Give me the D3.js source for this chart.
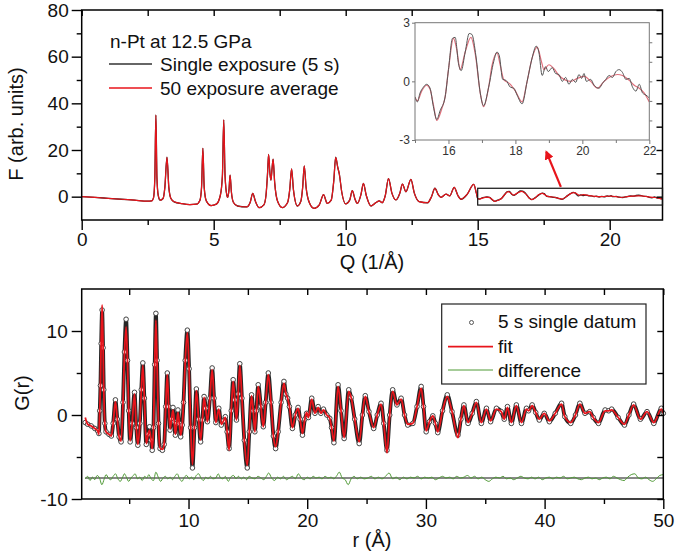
<!DOCTYPE html>
<html><head><meta charset="utf-8">
<script src="https://cdn.jsdelivr.net/npm/d3@7"></script>
<style>
body{margin:0;background:#fff}
svg{display:block}
text{font-family:"Liberation Sans",Arial,sans-serif}
</style>
</head><body>
<svg id="c" width="675" height="555"></svg>
<script>
// ---------------- DATA ----------------
// Top panel: F(Q), both exposures coincide below Q = 15 [Q, F]
const fLow = [
[0,0],[0.5,-0.3],[1.0,-0.7],[1.5,-1.1],[2.0,-1.5],[2.5,-1.9],[2.65,-1.8],[2.72,-0.5],[2.77,8],[2.81,35.0],
[2.85,8],[2.9,0.5],[2.97,-1.5],[3.08,-0.8],[3.15,4],[3.23,16.9],[3.3,4],[3.38,-0.8],[3.5,-2.2],[3.8,-3.0],
[4.1,-3.4],[4.35,-3.2],[4.48,-1.5],[4.54,4],[4.59,20.7],[4.64,4],[4.72,-1.8],[4.9,-3.8],[5.1,-3.2],[5.25,0.5],
[5.33,9],[5.38,32.9],[5.43,9],[5.5,0.5],[5.53,-0.3],[5.58,3],[5.62,9.2],[5.67,2],[5.75,-2.5],[5.9,-4.0],
[6.25,-4.4],[6.38,-2.5],[6.48,1.4],[6.58,-2.0],[6.72,-4.7],[6.9,-3.5],[6.98,0.5],[7.04,10],[7.08,18.1],[7.13,10],
[7.17,7.1],[7.21,12],[7.25,16.1],[7.31,6],[7.42,-2.0],[7.6,-4.7],[7.8,-2.5],[7.88,3],[7.95,11.9],[8.02,3],
[8.17,-4.0],[8.3,-2.0],[8.37,4],[8.43,13.2],[8.5,4],[8.62,-2.5],[8.8,-5.0],[9.0,-3.5],[9.16,0.9],[9.3,-2.9],
[9.45,-1.5],[9.55,7],[9.62,16.9],[9.7,12.5],[9.76,9.6],[9.85,2.0],[10.0,-3.1],[10.15,-1.5],[10.25,2.6],[10.35,-1.0],
[10.44,-2.9],[10.58,1.0],[10.67,5.7],[10.78,0.5],[10.96,-4.0],[11.15,-2.5],[11.27,-1.8],[11.38,-2.6],[11.5,0.5],[11.62,7.7],
[11.75,1.5],[11.9,-1.4],[12.05,1.5],[12.15,5.4],[12.28,2.1],[12.47,7.4],[12.6,1.5],[12.78,-2.1],[13.1,-2.6],[13.25,0.0],
[13.38,3.6],[13.5,1.0],[13.61,-0.3],[13.8,1.1],[13.94,0.3],[14.11,4.0],[14.25,0.5],[14.37,-1.1],[14.6,1.0],[14.85,5.3],
[14.95,1.5]
];
// Q >= 15: 50 exposure average [Q, F]
const fHiAvg = [
[15.0,-0.8],[15.07,-1.0],[15.2,-0.5],[15.35,-0.2],[15.45,-0.4],[15.55,-1.2],[15.65,-2.0],[15.8,-1.4],[15.9,-0.8],[16.0,0.6],
[16.15,2.2],[16.25,1.6],[16.35,0.6],[16.5,1.5],[16.67,2.25],[16.8,1.4],[16.95,-0.6],[17.05,-1.3],[17.2,-0.3],[17.3,0.8],
[17.45,1.45],[17.55,0.8],[17.65,0.1],[17.85,-0.15],[18.0,-0.5],[18.2,-1.05],[18.35,0.0],[18.5,1.2],[18.65,1.75],[18.78,1.0],
[18.85,0.6],[19.0,0.85],[19.15,0.65],[19.3,0.3],[19.45,0.1],[19.65,0.0],[19.85,0.15],[20.05,0.25],[20.25,0.0],[20.45,-0.35],
[20.65,0.0],[20.85,0.25],[21.05,0.35],[21.2,0.3],[21.4,0.05],[21.55,-0.2],[21.7,-0.35],[21.85,-0.6],[22.0,-1.05]
];
// Q >= 15: single exposure (5 s) [Q, F]
const fHiSingle = [
[15.0,-0.8],[15.07,-1.05],[15.15,-0.6],[15.25,-0.3],[15.35,-0.15],[15.45,-0.35],[15.55,-1.3],[15.65,-1.95],[15.75,-1.5],[15.9,-0.8],
[16.0,0.6],[16.12,2.2],[16.2,2.25],[16.3,0.9],[16.38,0.55],[16.5,1.5],[16.62,2.45],[16.7,2.4],[16.82,1.3],[16.95,-0.6],
[17.05,-1.25],[17.2,-0.3],[17.35,1.0],[17.45,1.5],[17.52,1.3],[17.62,0.1],[17.72,0.05],[17.85,-0.3],[17.95,-0.35],[18.05,-0.7],
[18.2,-1.15],[18.35,0.0],[18.5,1.2],[18.62,1.8],[18.7,1.5],[18.8,0.3],[18.9,0.75],[18.98,0.5],[19.1,0.7],[19.2,0.4],
[19.3,0.35],[19.4,0.0],[19.5,0.2],[19.6,-0.15],[19.7,0.1],[19.8,-0.05],[19.9,0.35],[19.98,0.15],[20.05,0.4],[20.12,0.0],
[20.25,0.1],[20.35,-0.2],[20.5,-0.35],[20.6,-0.1],[20.7,0.1],[20.8,0.3],[20.9,0.2],[21.0,0.5],[21.1,0.6],[21.2,0.45],
[21.3,0.1],[21.4,0.15],[21.5,-0.3],[21.6,-0.5],[21.7,-0.15],[21.8,-0.6],[21.9,-0.7],[22.0,-0.85]
];

// Bottom panel: G(r)
const gR = [
1.30,1.50,1.80,2.10,2.35,2.45,2.52,2.58,2.64,2.72,
2.80,2.86,2.95,3.05,3.30,3.50,3.65,3.84,4.00,4.15,
4.32,4.48,4.60,4.74,4.86,4.96,5.08,5.25,5.45,5.60,
5.73,5.90,6.02,6.15,6.28,6.44,6.60,6.72,6.84,6.94,
7.05,7.15,7.25,7.35,7.47,7.60,7.80,7.95,8.08,8.21,
8.33,8.44,8.57,8.69,8.80,8.89,9.00,9.11,9.22,9.34,
9.47,9.58,9.72,9.90,10.05,10.18,10.33,10.50,10.66,10.85,
11.02,11.17,11.31,11.45,11.59,11.80,11.99,12.15,12.30,12.55,
12.76,12.95,13.10,13.25,13.42,13.60,13.76,13.90,14.04,14.18,
14.32,14.50,14.70,14.95,15.12,15.31,15.45,15.59,15.72,15.87,
16.10,16.30,16.50,16.72,16.95,17.15,17.34,17.55,17.80,18.04,
18.20,18.35,18.50,18.75,19.00,19.23,19.40,19.60,19.80,19.95,
20.10,20.38,20.65,20.92,21.15,21.37,21.65,21.90,22.05,22.25,
22.60,22.85,23.11,23.50,23.70,24.00,24.38,24.65,24.89,25.20,
25.60,25.90,26.22,26.45,26.72,26.95,27.20,27.56,27.91,28.20,
28.47,28.90,29.25,29.60,29.80,30.02,30.30,30.58,30.80,31.00,
31.40,31.80,32.20,32.70,32.95,33.20,33.55,33.90,34.25,34.67,
35.10,35.45,35.94,36.35,36.60,36.87,37.20,37.62,38.05,38.47,
38.65,38.95,39.25,39.55,39.97,40.40,40.90,41.43,41.70,42.20,
42.60,42.97,43.40,43.80,44.10,44.54,45.10,45.40,45.65,46.20,
46.73,47.10,47.50,48.07,48.63,49.20,49.83,50.00
];
// 5 s single datum
const gObs = [
-0.9,-1.1,-1.3,-1.6,-1.9,-2.2,0.5,3.5,8.5,12.5,
8.0,3.0,-1.0,-2.0,-2.3,-2.5,-1.0,1.8,-0.5,-2.6,
-3.2,1.5,7.5,11.4,6.5,0.5,-3.2,-1.0,2.7,-1.5,
-3.6,-1.0,3.0,6.2,2.0,-3.5,-2.3,-1.4,-3.0,-4.2,
-1.5,6.0,12.1,6.5,-1.0,-4.0,-4.2,-3.5,1.0,5.0,
1.0,-1.8,-0.5,0.9,-0.8,-2.4,-1.0,0.6,-1.0,-2.6,
-1.2,1.5,6.5,10.1,5.5,-1.5,-6.3,-1.5,3.1,-0.5,
-3.2,-0.6,2.2,0.8,-0.8,2.0,5.6,2.0,-0.9,0.8,
-1.2,-0.7,-0.2,-2.0,-4.0,0.5,4.2,1.8,-0.6,2.5,
6.1,2.0,-3.0,-6.3,-2.0,2.4,0.5,-2.0,0.5,3.6,
1.0,-1.4,1.5,5.0,1.5,-2.5,-4.0,-2.0,1.5,4.0,
2.5,2.0,1.0,-1.6,0.0,0.9,-0.5,-2.4,-0.5,0.2,
-0.3,2.0,0.2,1.0,0.2,0.7,0.0,-0.4,-1.5,-3.3,
3.6,0.5,-2.8,3.0,2.1,-0.5,-3.4,0.0,2.3,0.4,
-1.6,0.0,1.4,-1.0,-4.2,0.0,3.0,1.2,2.0,0.0,
-1.2,-1.0,1.0,3.4,1.0,-2.0,-0.8,-0.1,-1.0,-2.1,
0.5,2.4,0.4,-2.4,-0.5,1.2,-1.0,0.2,1.6,-1.0,
0.8,-0.8,0.8,0.4,-0.5,1.0,-1.0,1.2,-1.0,0.8,
0.5,1.2,0.3,-0.6,0.2,-0.8,0.2,1.4,-0.2,-1.0,
0.0,1.4,0.2,0.4,-0.3,-1.0,0.6,0.5,0.7,-0.3,
-1.2,0.0,1.3,-0.5,0.4,-1.0,0.8,0.2
];
// fit
const gFit = [
-0.3,-1.1,-1.3,-1.6,-1.9,-2.3,0.5,3.6,8.8,13.1,
8.2,3.0,-1.0,-2.0,-2.3,-2.5,-1.0,1.6,-0.5,-2.6,
-3.1,1.4,7.1,10.5,6.2,0.5,-3.1,-1.0,2.5,-1.5,
-3.5,-1.0,2.8,5.9,1.9,-3.4,-2.3,-1.8,-3.0,-4.0,
-1.5,5.7,11.3,6.2,-1.0,-3.9,-4.1,-3.4,1.0,4.8,
1.0,-1.7,-0.5,0.6,-0.8,-2.3,-1.0,0.3,-1.0,-2.4,
-1.2,1.5,6.3,9.8,5.4,-1.4,-5.9,-1.4,2.9,-0.5,
-3.0,-0.6,2.1,0.8,-0.8,2.0,5.4,2.0,-0.9,0.7,
-1.1,-0.7,-0.3,-2.0,-4.2,0.5,4.0,1.8,-0.6,2.4,
5.9,2.0,-3.0,-6.0,-2.0,2.3,0.5,-2.0,0.5,3.4,
1.0,-1.4,1.5,4.8,1.5,-2.5,-3.8,-2.0,1.5,3.8,
2.6,2.0,1.0,-1.5,0.0,0.8,-0.5,-2.2,-0.5,0.3,
-0.3,1.9,0.2,0.9,0.2,0.6,0.0,-0.4,-1.5,-3.1,
3.4,0.5,-2.7,2.8,2.1,-0.5,-3.2,0.0,2.2,0.4,
-1.5,0.0,1.3,-1.0,-4.5,0.0,2.8,1.2,1.9,0.0,
-1.1,-1.0,1.0,3.2,1.0,-1.9,-0.8,-0.1,-1.0,-2.0,
0.5,2.2,0.4,-2.7,-0.5,1.1,-0.9,0.2,1.5,-0.9,
0.7,-0.7,0.7,0.4,-0.5,0.9,-0.9,1.1,-0.9,0.7,
0.5,1.1,0.3,-0.5,0.2,-0.7,0.2,1.3,-0.2,-0.9,
0.0,1.3,0.2,0.4,-0.3,-0.9,0.5,0.5,0.6,-0.3,
-1.1,0.0,1.2,-0.5,0.4,-0.9,0.7,0.2
];
// difference (offset by -7.5) [r, G]
const gDiff = [
[1.3,-7.6],[1.5,-7.3],[1.7,-7.8],[1.9,-7.4],[2.1,-7.7],[2.3,-7.2],[2.5,-7.5],[2.7,-8.3],[2.9,-7.6],[3.05,-7.1],
[3.25,-7.5],[3.45,-7.7],[3.65,-7.3],[3.85,-7.0],[4.05,-7.6],[4.25,-7.9],[4.45,-7.4],[4.6,-7.0],[4.8,-7.5],[4.95,-7.9],
[5.15,-7.5],[5.35,-7.2],[5.5,-7.0],[5.7,-7.6],[5.9,-7.4],[6.1,-7.8],[6.3,-7.3],[6.5,-7.5],[6.65,-7.1],[6.85,-7.6],
[7.05,-7.8],[7.25,-6.8],[7.45,-7.4],[7.65,-7.9],[7.85,-7.5],[8.05,-7.3],[8.25,-7.6],[8.45,-7.4],[8.65,-7.7],[8.85,-7.3],
[9.05,-7.0],[9.25,-7.6],[9.45,-7.9],[9.65,-7.4],[9.85,-7.2],[10.05,-7.6],[10.25,-7.4],[10.45,-7.7],[10.65,-7.2],[10.85,-7.0],
[11.05,-7.5],[11.25,-7.8],[11.45,-7.4],[11.65,-7.6],[11.85,-7.3],[12.05,-7.6],[12.3,-7.5],[12.5,-7.0],[12.7,-7.5],[12.9,-7.6],
[13.1,-7.3],[13.35,-7.9],[13.55,-7.4],[13.8,-7.2],[14.0,-7.6],[14.2,-7.3],[14.45,-7.6],[14.65,-7.4],[14.9,-7.7],[15.1,-7.3],
[15.35,-7.5],[15.6,-7.6],[15.85,-7.3],[16.1,-7.5],[16.35,-7.7],[16.6,-7.2],[16.75,-6.9],[17.0,-7.5],[17.25,-7.8],[17.5,-7.4],
[17.75,-7.6],[18.0,-7.3],[18.25,-7.7],[18.5,-7.5],[18.75,-7.3],[19.0,-7.6],[19.25,-7.0],[19.5,-7.5],[19.75,-7.7],[20.0,-7.4],
[20.25,-7.6],[20.5,-7.3],[20.75,-7.5],[21.0,-7.4],[21.25,-7.6],[21.5,-7.3],[21.75,-7.5],[22.0,-7.4],[22.25,-7.6],[22.5,-7.2],
[22.7,-6.8],[22.95,-7.5],[23.2,-7.7],[23.45,-8.3],[23.7,-7.6],[23.95,-7.3],[24.2,-7.6],[24.5,-7.4],[24.8,-7.6],[25.1,-7.5],
[25.4,-7.3],[25.7,-7.6],[26.0,-7.4],[26.3,-7.6],[26.6,-7.3],[26.9,-6.9],[27.2,-7.6],[27.5,-7.4],[27.8,-7.7],[28.1,-7.4],
[28.4,-7.6],[28.7,-7.4],[29.0,-7.5],[29.3,-7.3],[29.6,-7.6],[29.9,-7.4],[30.2,-7.5],[30.5,-7.4],[30.8,-7.7],[31.1,-7.5],
[31.4,-7.3],[31.7,-7.5],[32.0,-7.4],[32.3,-7.6],[32.6,-7.3],[32.9,-7.5],[33.2,-7.4],[33.5,-7.2],[33.8,-7.5],[34.1,-7.3],
[34.4,-7.6],[34.7,-7.4],[35.0,-7.7],[35.3,-7.9],[35.6,-7.6],[35.9,-7.4],[36.2,-7.5],[36.5,-7.3],[36.8,-7.6],[37.1,-7.5],
[37.4,-7.7],[37.7,-7.5],[38.0,-7.3],[38.3,-7.5],[38.6,-7.6],[38.9,-7.4],[39.2,-7.6],[39.5,-7.4],[39.8,-7.7],[40.1,-7.5],
[40.4,-7.4],[40.7,-7.6],[41.0,-7.4],[41.3,-7.5],[41.6,-7.3],[41.9,-7.6],[42.2,-7.5],[42.5,-7.4],[42.8,-7.6],[43.1,-7.7],
[43.4,-7.5],[43.7,-7.4],[44.0,-7.6],[44.3,-7.5],[44.6,-7.7],[44.9,-7.5],[45.2,-7.4],[45.5,-7.6],[45.8,-7.3],[46.1,-7.5],
[46.4,-7.7],[46.7,-7.8],[47.0,-7.4],[47.3,-7.1],[47.6,-7.0],[47.9,-7.5],[48.2,-7.6],[48.5,-7.4],[48.8,-7.7],[49.1,-7.9],
[49.4,-7.6],[49.7,-7.2],[50.0,-7.1]
];
const diffZero = -7.5;

// tick values and labels
const fQMajor = [0,5,10,15,20], fQMinor = [2.5,7.5,12.5,17.5];
const fYMajor = [0,20,40,60,80], fYMinor = [10,30,50,70];
const insetXTicks = [16,18,20,22], insetXMinor = [15,17,19,21], insetYTicks = [-3,0,3];
const gXMajor = [10,20,30,40,50], gXMinor = [5,15,25,35,45];
const gYMajor = [-10,0,10], gYMinor = [-5,5];
const topLegend = ["Single exposure (5 s)","50 exposure average"];
const botLegend = ["5 s single datum","fit","difference"];

// ---------------- DRAW ----------------
const RED = "#e8141b", FONT = '"Liberation Sans", Arial, sans-serif';
const svg = d3.select("#c");
const defs = svg.append("defs");
defs.append("marker").attr("id","ah").attr("viewBox","0 0 10 10").attr("refX",8).attr("refY",5)
  .attr("markerWidth",4.2).attr("markerHeight",4.2).attr("orient","auto")
  .append("path").attr("d","M0,0L10,5L0,10z").attr("fill",RED);

function styleAxis(g, fs) {
  g.select(".domain").remove();
  g.selectAll(".tick line").attr("stroke","#000").attr("stroke-width",1.4);
  g.selectAll("text").attr("font-size",fs).attr("font-family",FONT).attr("fill","#111");
}
function axes(xs, ys, o) {
  const [x0,x1] = xs.range(), [y0,y1] = ys.range();
  const fmt = d => String(d);
  styleAxis(svg.append("g").attr("transform",`translate(0,${y0})`)
    .call(d3.axisBottom(xs).tickValues(o.xMajor).tickSize(10).tickPadding(o.xPad).tickFormat(fmt)), 19);
  styleAxis(svg.append("g").attr("transform",`translate(0,${y0})`)
    .call(d3.axisBottom(xs).tickValues(o.xMinor).tickSize(5).tickFormat("")), 19);
  styleAxis(svg.append("g").attr("transform",`translate(0,${y1})`)
    .call(d3.axisTop(xs).tickValues(o.xMajor.concat(o.xMinor)).tickSize(-6).tickFormat("")), 19);
  styleAxis(svg.append("g").attr("transform",`translate(${x0},0)`)
    .call(d3.axisLeft(ys).tickValues(o.yMajor).tickSize(10).tickPadding(o.yPad).tickFormat(fmt)), 19);
  styleAxis(svg.append("g").attr("transform",`translate(${x0},0)`)
    .call(d3.axisLeft(ys).tickValues(o.yMinor).tickSize(5).tickFormat("")), 19);
  styleAxis(svg.append("g").attr("transform",`translate(${x1},0)`)
    .call(d3.axisRight(ys).tickValues(o.yMajor.concat(o.yMinor)).tickSize(-6).tickFormat("")), 19);
  svg.append("rect").attr("x",x0).attr("y",y1).attr("width",x1-x0).attr("height",y0-y1)
    .attr("fill","none").attr("stroke","#000").attr("stroke-width",1.5);
}

// ===== Top panel =====
const xF = d3.scaleLinear().domain([0,22]).range([81.7,662.5]);
const yF = d3.scaleLinear().domain([-10,80]).range([220,10]);
const lineF = d3.line().x(d=>xF(d[0])).y(d=>yF(d[1])).curve(d3.curveMonotoneX);
const fSingle = fLow.concat(fHiSingle), fAvg = fLow.concat(fHiAvg);

svg.append("path").attr("d",lineF(fSingle)).attr("fill","none").attr("stroke","#222").attr("stroke-width",1.3);
svg.append("path").attr("d",lineF(fAvg)).attr("fill","none").attr("stroke",RED).attr("stroke-width",1.2);

axes(xF, yF, {xMajor:fQMajor,xMinor:fQMinor,yMajor:fYMajor,yMinor:fYMinor,xPad:3,yPad:3});

// zoom box
svg.append("rect").attr("x",xF(15)).attr("y",yF(3.6)).attr("width",xF(22)-xF(15)).attr("height",yF(-3.6)-yF(3.6))
  .attr("fill","none").attr("stroke","#111").attr("stroke-width",1.2);
// arrow
svg.append("line").attr("x1",xF(18.15)).attr("y1",yF(4.2)).attr("x2",xF(17.6)).attr("y2",yF(19.2))
  .attr("stroke",RED).attr("stroke-width",2.2).attr("marker-end","url(#ah)");

// inset
const xI = d3.scaleLinear().domain([15,22]).range([415,649.3]);
const yI = d3.scaleLinear().domain([-3,3]).range([140,22.7]);
svg.append("rect").attr("x",415).attr("y",22.7).attr("width",234.3).attr("height",117.3).attr("fill","#fff");
defs.append("clipPath").attr("id","ic").append("rect").attr("x",415).attr("y",22.7).attr("width",234.3).attr("height",117.3);
const lineI = d3.line().x(d=>xI(d[0])).y(d=>yI(d[1])).curve(d3.curveMonotoneX);
const gi = svg.append("g").attr("clip-path","url(#ic)");
gi.append("path").attr("d",lineI(fHiAvg)).attr("fill","none").attr("stroke","#e0707c").attr("stroke-width",1.2);
gi.append("path").attr("d",lineI(fHiSingle)).attr("fill","none").attr("stroke","#555").attr("stroke-width",1);
function styleInset(g){
  g.select(".domain").remove();
  g.selectAll(".tick line").attr("stroke","#777").attr("stroke-width",1);
  g.selectAll("text").attr("font-size",12).attr("font-family",FONT).attr("fill","#333");
}
styleInset(svg.append("g").attr("transform","translate(0,140)")
  .call(d3.axisBottom(xI).tickValues(insetXTicks).tickSize(4).tickPadding(2).tickFormat(d=>String(d))));
styleInset(svg.append("g").attr("transform","translate(0,140)")
  .call(d3.axisBottom(xI).tickValues(insetXMinor).tickSize(3).tickFormat("")));
styleInset(svg.append("g").attr("transform","translate(415,0)")
  .call(d3.axisLeft(yI).tickValues(insetYTicks).tickSize(3).tickPadding(2).tickFormat(d=>String(d))));
styleInset(svg.append("g").attr("transform","translate(649.3,0)")
  .call(d3.axisRight(yI).tickValues([-2,-1,0,1,2]).tickSize(3).tickFormat("")));
svg.append("rect").attr("x",415).attr("y",22.7).attr("width",234.3).attr("height",117.3)
  .attr("fill","none").attr("stroke","#777").attr("stroke-width",1);

// top legend
svg.append("text").attr("x",110).attr("y",48).attr("font-size",19).attr("fill","#111").text("n-Pt at 12.5 GPa");
[["#333",64],[RED,88]].forEach((c,i)=>{
  svg.append("line").attr("x1",109).attr("x2",152).attr("y1",c[1]).attr("y2",c[1]).attr("stroke",c[0]).attr("stroke-width",1.3);
  svg.append("text").attr("x",160).attr("y",c[1]+7).attr("font-size",19).attr("fill","#111").text(topLegend[i]);
});

// axis titles
svg.append("text").attr("transform","translate(23,124) rotate(-90)").attr("text-anchor","middle")
  .attr("font-size",20).attr("fill","#111").text("F (arb. units)");
svg.append("text").attr("x",372).attr("y",269).attr("text-anchor","middle").attr("font-size",20).attr("fill","#111").text("Q (1/Å)");

// ===== Bottom panel =====
const xG = d3.scaleLinear().domain([1,50]).range([81.7,663.3]);
const yG = d3.scaleLinear().domain([-10,15]).range([499,289]);
const idx = d3.range(gR.length);
const lineObs = d3.line().x(i=>xG(gR[i])).y(i=>yG(gObs[i])).curve(d3.curveMonotoneX);
const lineFit = d3.line().x(i=>xG(gR[i])).y(i=>yG(gFit[i])).curve(d3.curveMonotoneX);
const lineD = d3.line().x(d=>xG(d[0])).y(d=>yG(d[1])).curve(d3.curveMonotoneX);

svg.append("line").attr("x1",xG(gDiff[0][0])).attr("x2",xG(50)).attr("y1",yG(diffZero)).attr("y2",yG(diffZero))
  .attr("stroke","#111").attr("stroke-width",1);
svg.append("path").attr("d",lineD(gDiff)).attr("fill","none").attr("stroke","#4f9a35").attr("stroke-width",1);

svg.append("path").attr("d",lineObs(idx)).attr("fill","none").attr("stroke","#262626").attr("stroke-width",3.8);
svg.append("g").selectAll("circle").data(idx).join("circle")
  .attr("cx",i=>xG(gR[i])).attr("cy",i=>yG(gObs[i])).attr("r",2.3)
  .attr("fill","#fff").attr("stroke","#444").attr("stroke-width",1);
svg.append("path").attr("d",lineFit(idx)).attr("fill","none").attr("stroke",RED).attr("stroke-width",1.8);

axes(xG, yG, {xMajor:gXMajor,xMinor:gXMinor,yMajor:gYMajor,yMinor:gYMinor,xPad:5,yPad:4});

// bottom legend
svg.append("rect").attr("x",441.7).attr("y",304).attr("width",204.3).attr("height",80)
  .attr("fill","#fff").attr("stroke","#222").attr("stroke-width",1.2);
svg.append("circle").attr("cx",471.5).attr("cy",322.5).attr("r",2).attr("fill","#fff").attr("stroke","#555");
svg.append("line").attr("x1",448).attr("x2",493).attr("y1",346.7).attr("y2",346.7).attr("stroke",RED).attr("stroke-width",1.8);
svg.append("line").attr("x1",448).attr("x2",493).attr("y1",370).attr("y2",370).attr("stroke","#4f9a35").attr("stroke-width",1);
[328,353,377].forEach((y,i)=>svg.append("text").attr("x",498).attr("y",y).attr("font-size",19).attr("fill","#111").text(botLegend[i]));

svg.append("text").attr("transform","translate(29,393) rotate(-90)").attr("text-anchor","middle")
  .attr("font-size",20).attr("fill","#111").text("G(r)");
svg.append("text").attr("x",372).attr("y",547).attr("text-anchor","middle").attr("font-size",20).attr("fill","#111").text("r (Å)");
</script>
</body></html>
